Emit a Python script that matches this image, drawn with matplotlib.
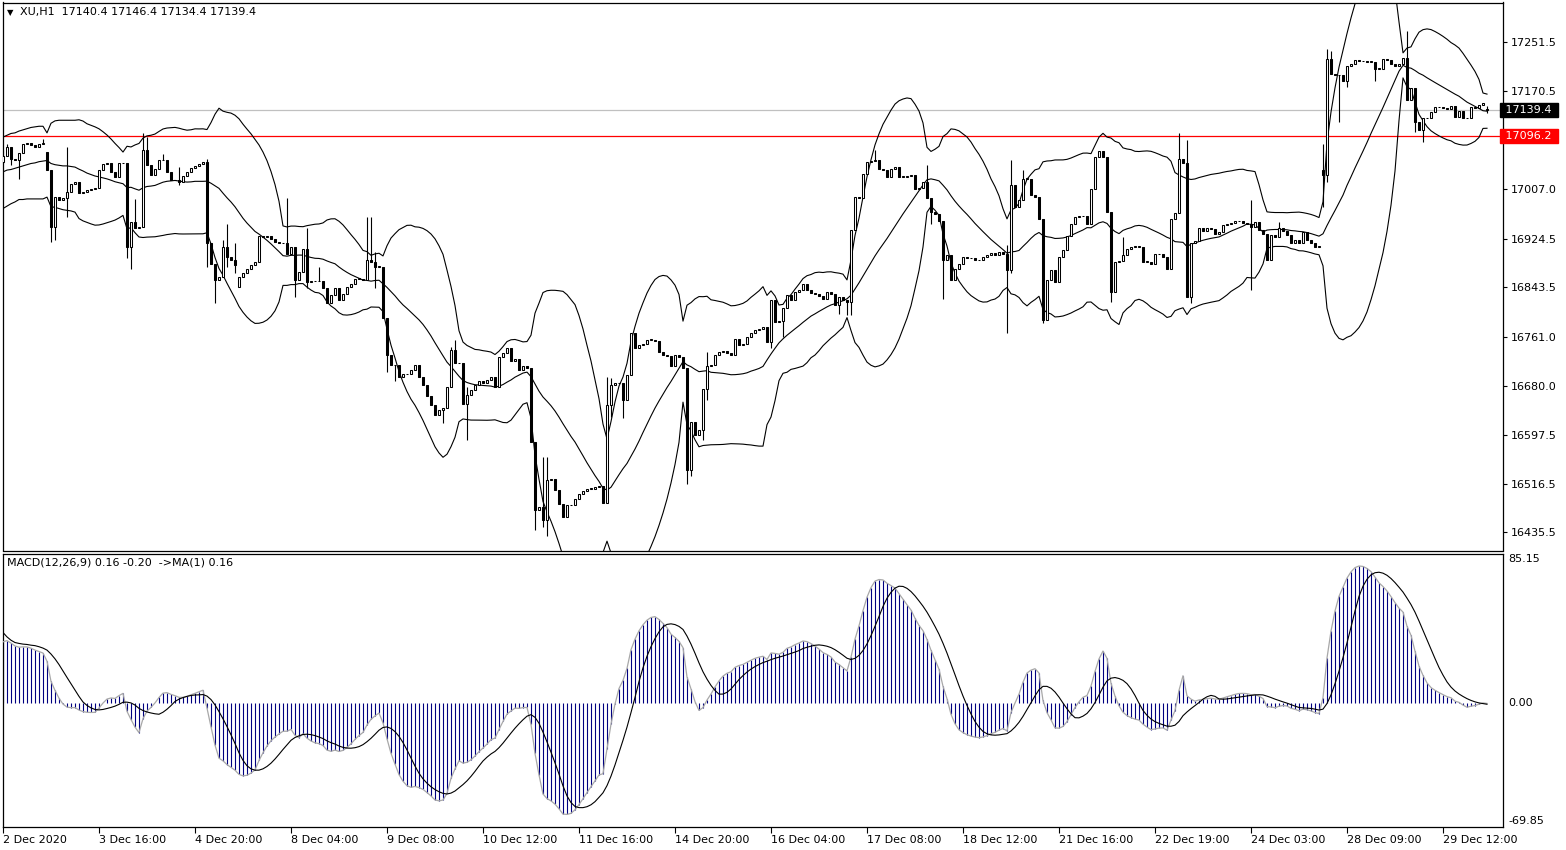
import numpy as np
import pandas as pd
import matplotlib
matplotlib.use("Agg")
import matplotlib.pyplot as plt
from matplotlib.transforms import blended_transform_factory

# ---------------- data ----------------
closes = [
    17063, 17077, 17058, 17056, 17068, 17082, 17084, 17080, 17078, 17083,
    17084, 17039, 16944, 16994, 16990, 16992, 17003, 17016, 17019, 17001,
    17003, 17006, 17008, 17009, 17039, 17049, 17050, 17036, 17027, 17050,
    17051, 16911, 16953, 16943, 16944, 17072, 17047, 17030, 17041, 17055,
    17056, 17036, 17022, 17023, 17019, 17029, 17036, 17043, 17045, 17049,
    17052, 16917, 16883, 16856, 16861, 16911, 16894, 16890, 16881, 16861,
    16868, 16875, 16881, 16886, 16930, 16928, 16929, 16925, 16919, 16918,
    16917, 16900, 16911, 16856, 16870, 16908, 16853, 16854, 16854, 16855,
    16843, 16817, 16831, 16842, 16822, 16833, 16845, 16850, 16858, 16858,
    16856, 16890, 16886, 16878, 16878, 16792, 16731, 16714, 16714, 16695,
    16700, 16699, 16706, 16714, 16695, 16681, 16662, 16648, 16631, 16639,
    16642, 16678, 16739, 16717, 16717, 16650, 16664, 16673, 16681, 16687,
    16684, 16689, 16695, 16678, 16728, 16735, 16742, 16721, 16724, 16706,
    16712, 16709, 16587, 16473, 16478, 16456, 16523, 16524, 16506, 16483,
    16462, 16481, 16481, 16492, 16500, 16505, 16508, 16508, 16511, 16513,
    16484, 16648, 16681, 16685, 16684, 16656, 16698, 16767, 16742, 16748,
    16750, 16756, 16756, 16754, 16736, 16731, 16729, 16712, 16731, 16727,
    16709, 16540, 16620, 16598, 16606, 16675, 16712, 16714, 16731, 16736,
    16738, 16734, 16731, 16757, 16748, 16749, 16761, 16767, 16773, 16774,
    16778, 16753, 16822, 16786, 16787, 16809, 16831, 16823, 16836, 16840,
    16850, 16839, 16834, 16832, 16829, 16825, 16836, 16832, 16814, 16828,
    16822, 16820, 16939, 16994, 16993, 17033, 17052, 17054, 17056, 17041,
    17039, 17028, 17040, 17044, 17028, 17028, 17029, 17030, 17008, 17010,
    17019, 16992, 16969, 16966, 16955, 16889, 16897, 16856, 16875, 16883,
    16894, 16893, 16892, 16890, 16889, 16894, 16897, 16901, 16897, 16903,
    16900, 16872, 17014, 16978, 16989, 17025, 17025, 16997, 16994, 16958,
    16789, 16856, 16872, 16853, 16894, 16906, 16929, 16950, 16961, 16962,
    16962, 16950, 17008, 17061, 17071, 17061, 16969, 16836, 16886, 16888,
    16897, 16908, 16911, 16911, 16911, 16886, 16886, 16883, 16899, 16900,
    16894, 16875, 16958, 16967, 17058, 17050, 16828, 16917, 16921, 16942,
    16938, 16942, 16941, 16933, 16936, 16947, 16949, 16951, 16954, 16954,
    16951, 16949, 16944, 16952, 16939, 16933, 16889, 16931, 16927, 16942,
    16938, 16931, 16917, 16922, 16917, 16936, 16922, 16917, 16911, 16912,
    17030, 17224, 17199, 17197, 17197, 17188, 17213, 17216, 17222, 17221,
    17220, 17219, 17219, 17208, 17208, 17224, 17222, 17216, 17213, 17216,
    17226, 17155, 17175, 17119, 17105, 17125, 17126, 17136, 17144, 17144,
    17143, 17141, 17145, 17127, 17138, 17125, 17125, 17144, 17143, 17148,
    17150, 17139.4,
]
first_open = 17052.0
open_gaps = {11: 17069.0, 59: 16845.0, 330: 17039.0, 371: 17140.4}

wick_highs = {0: 17072, 1: 17083, 10: 17090, 16: 17077, 33: 16991, 35: 17100,
              36: 17094, 40: 17066, 44: 17044, 51: 17058, 55: 16922, 56: 16950,
              58: 16917, 71: 16993, 76: 16942, 79: 16878, 91: 16961, 92: 16961,
              93: 16903, 112: 16745, 113: 16756, 116: 16678, 135: 16562,
              136: 16562, 151: 16695, 152: 16692, 176: 16736, 218: 17072,
              231: 17047, 251: 16914, 252: 17055, 255: 17039, 280: 16928,
              294: 17100, 296: 17089, 312: 16989, 319: 16953, 330: 17083,
              331: 17241, 332: 17238, 351: 17271, 371: 17146.4}
wick_lows = {0: 17050, 2: 17047, 4: 17025, 12: 16919, 13: 16922, 16: 16961,
             31: 16892, 32: 16875, 44: 17014, 51: 16878, 53: 16817, 56: 16878,
             58: 16867, 73: 16828, 76: 16842, 91: 16864, 93: 16842, 96: 16703,
             98: 16687, 110: 16617, 116: 16589, 133: 16440, 135: 16445,
             136: 16429, 151: 16556, 152: 16628, 155: 16626, 171: 16517,
             172: 16529, 175: 16590, 176: 16656, 192: 16742, 195: 16761,
             209: 16800, 211: 16797, 212: 16797, 232: 16950, 235: 16825,
             251: 16767, 252: 16867, 260: 16784, 277: 16820, 297: 16817,
             312: 16839, 330: 16978, 331: 17019, 334: 17119, 336: 17177,
             343: 17188, 353: 17102, 355: 17086, 371: 17134.4}

# Bollinger values of the first 19 bars (history before the window is not shown)
bb_head_upper = [17094, 17097, 17100, 17101, 17104, 17106, 17108, 17110, 17111, 17112,
                 17112, 17101, 17117, 17121, 17122, 17122, 17122, 17122, 17122]
bb_head_mid = [17036, 17039, 17040, 17042, 17044, 17046, 17048, 17050, 17051, 17053,
               17054, 17055, 17050, 17048, 17047, 17046, 17046, 17045, 17044]
bb_head_lower = [16975, 16979, 16983, 16986, 16990, 16990, 16991, 16991, 16991, 16991,
                 16991, 16994, 16978, 16977, 16975, 16973, 16972, 16971, 16969]

ema12_start = 17036.0
ema26_start = 17001.0
signal_head = [40.3, 37.8, 35.9, 34.6, 34.1, 33.7, 33.5, 33.1]

x_labels = ["2 Dec 2020", "3 Dec 16:00", "4 Dec 20:00", "8 Dec 04:00", "9 Dec 08:00",
            "10 Dec 12:00", "11 Dec 16:00", "14 Dec 20:00", "16 Dec 04:00",
            "17 Dec 08:00", "18 Dec 12:00", "21 Dec 16:00", "22 Dec 19:00",
            "24 Dec 03:00", "28 Dec 09:00", "29 Dec 12:00"]
x_label_step = 24
price_ticks = [17251.5, 17170.5, 17089.0, 17007.0, 16924.5, 16843.5, 16761.0,
               16680.0, 16597.5, 16516.5, 16435.5]
last_price = 17139.4
ref_price = 17096.2
macd_range = (-69.85, 85.15)
header = "XU,H1  17140.4 17146.4 17134.4 17139.4"
macd_title = "MACD(12,26,9) 0.16 -0.20  ->MA(1) 0.16"

# ---------------- derived series ----------------
n = len(closes)
x = np.arange(n)
c = np.array(closes, dtype=float)
o = np.r_[first_open, c[:-1]]
for k, v in open_gaps.items():
    o[k] = v
h = np.array([max(o[i], c[i], wick_highs.get(i, -np.inf)) for i in range(n)])
l = np.array([min(o[i], c[i], wick_lows.get(i, np.inf)) for i in range(n)])

s = pd.Series(c)
mid = s.rolling(20).mean().to_numpy()
sd = s.rolling(20).std(ddof=0).to_numpy()
up = mid + 2 * sd
lo = mid - 2 * sd
k0 = len(bb_head_mid)
mid[:k0] = bb_head_mid
up[:k0] = bb_head_upper
lo[:k0] = bb_head_lower

e12 = np.empty(n); e26 = np.empty(n)
e12[0], e26[0] = ema12_start, ema26_start
for i in range(1, n):
    e12[i] = e12[i - 1] + 2 / 13 * (c[i] - e12[i - 1])
    e26[i] = e26[i - 1] + 2 / 27 * (c[i] - e26[i - 1])
macd = e12 - e26
sig = np.empty(n)
sig[:len(signal_head)] = signal_head
for i in range(len(signal_head), n):
    sig[i] = macd[i - 8:i + 1].mean()

# ---------------- figure ----------------
W, H = 1566, 850
fig = plt.figure(figsize=(W / 100, H / 100), dpi=100)
fig.patch.set_facecolor("white")
plt.rcParams["font.family"] = ["DejaVu Sans"]

def px_axes(x0, y0, x1, y1):
    return fig.add_axes([x0 / W, 1 - y1 / H, (x1 - x0) / W, (y1 - y0) / H])

ax = px_axes(2.5, 2.5, 1502.5, 550.5)
ax2 = px_axes(2.5, 553.5, 1502.5, 826.5)
xlim = (-0.125, 374.875)

for a in (ax, ax2):
    a.set_xlim(*xlim)
    a.set_facecolor("white")
    for sp in a.spines.values():
        sp.set_color("black")
        sp.set_linewidth(0.9)

ax.set_ylim(16405.5, 17318.1)

# Bollinger bands
for line in (up, mid, lo):
    ax.plot(x, line, color="black", lw=0.8, zorder=2)

# price lines
ax.axhline(last_price, color="#c0c0c0", lw=0.9, zorder=1)
ax.axhline(ref_price, color="#ff0000", lw=0.9, zorder=1)

# candles
ax.vlines(x, l, h, color="black", lw=0.8, zorder=3)
bull = c >= o
body_lo = np.minimum(o, c)
body_h = np.maximum(np.abs(c - o), 0.9)
ax.bar(x[bull], body_h[bull], bottom=body_lo[bull], width=0.6,
       facecolor="white", edgecolor="black", linewidth=0.75, zorder=4)
ax.bar(x[~bull], body_h[~bull], bottom=body_lo[~bull], width=0.6,
       facecolor="black", edgecolor="black", linewidth=0.75, zorder=4)

ax.set_xticks([])
ax.yaxis.tick_right()
ax.set_yticks(price_ticks)
# the 17089.0 label sits under the red price box, as in the reference
ax.set_yticklabels(["" if abs(v - ref_price) < 12 else f"{v:.1f}" for v in price_ticks])
ax.tick_params(axis="y", direction="out", length=3, pad=3, labelsize=8,
               colors="black")

tr = blended_transform_factory(ax.transAxes, ax.transData)
ax.text(1.0, last_price, " " + f"{last_price:.1f}" + " ", transform=tr,
        ha="left", va="center", fontsize=8, color="white", zorder=10,
        bbox=dict(boxstyle="square,pad=0.2", fc="black", ec="black"))
ax.text(1.0, ref_price, " " + f"{ref_price:.1f}" + " ", transform=tr,
        ha="left", va="center", fontsize=8, color="white", zorder=10,
        bbox=dict(boxstyle="square,pad=0.2", fc="#ff0000", ec="#ff0000"))

# MACD panel
ax2.set_ylim(*macd_range)
ax2.vlines(x, 0, macd, color="#000080", lw=0.8, zorder=2)
ax2.plot(x, macd, color="#a8a8a8", lw=0.9, zorder=3)
ax2.plot(x, sig, color="black", lw=0.8, zorder=4)
ax2.set_yticks([])
ticks = np.arange(0, n, x_label_step)[:len(x_labels)]
ax2.set_xticks(ticks)
ax2.set_xticklabels(x_labels, ha="left")
ax2.tick_params(axis="x", direction="out", length=4, pad=2, labelsize=8,
                colors="black")
tr2 = blended_transform_factory(ax2.transAxes, ax2.transData)
ax2.text(1.004, macd_range[1], f"{macd_range[1]:.2f}", transform=tr2,
         ha="left", va="top", fontsize=8)
ax2.text(1.004, 0.0, "0.00", transform=tr2, ha="left", va="center", fontsize=8)
ax2.text(1.004, macd_range[0], f"{macd_range[0]:.2f}", transform=tr2,
         ha="left", va="bottom", fontsize=8)
ax2.text(0.003, 0.985, macd_title, transform=ax2.transAxes, ha="left",
         va="top", fontsize=8)

fig.text(7 / W, 1 - 12.5 / H, "\u25BC", fontsize=6, ha="left", va="center")
fig.text(20 / W, 1 - 12.5 / H, header, fontsize=8, ha="left", va="center")

fig.savefig("out.png", dpi=100, facecolor="white")
